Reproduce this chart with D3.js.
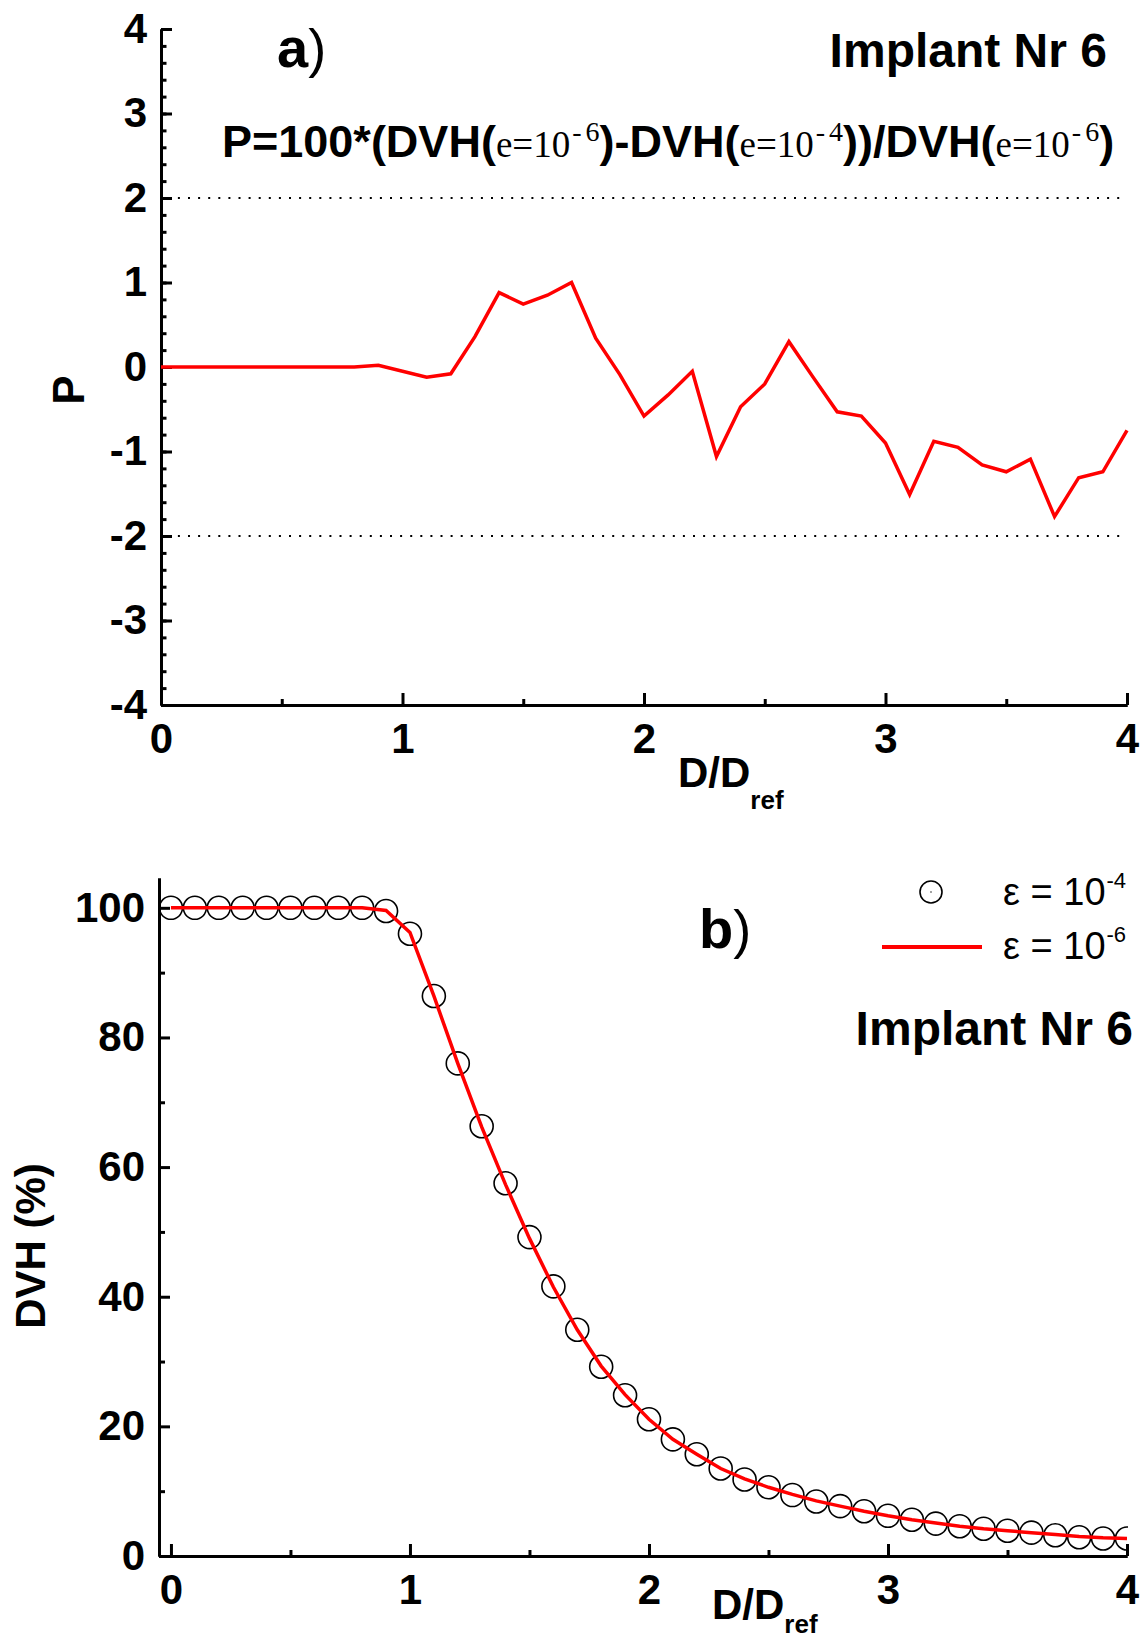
<!DOCTYPE html>
<html><head><meta charset="utf-8">
<script src="https://cdnjs.cloudflare.com/ajax/libs/d3/7.8.5/d3.min.js"></script>
<style>body{margin:0;background:#fff} svg{display:block}</style>
</head><body>
<svg id="c" width="1147" height="1641"></svg>
<script>
// ---------- data ----------
const dose = [0.0,0.1,0.2,0.3,0.4,0.5,0.6,0.7,0.8,0.9,1.0,1.1,1.2,1.3,1.4,1.5,1.6,1.7,1.8,1.9,2.0,
              2.1,2.2,2.3,2.4,2.5,2.6,2.7,2.8,2.9,3.0,3.1,3.2,3.3,3.4,3.5,3.6,3.7,3.8,3.9,4.0];
const pDiff = [0,0,0,0,0,0,0,0,0,0.02,-0.05,-0.12,-0.08,0.36,0.88,0.745,0.85,1.0,0.34,-0.09,-0.58,
               -0.33,-0.05,-1.06,-0.47,-0.20,0.30,-0.12,-0.53,-0.58,-0.90,-1.51,-0.88,-0.95,-1.16,-1.24,-1.09,-1.77,-1.31,-1.24,-0.75];
const dvhE4 = [100,100,100,100,100,100,100,100,100,99.5,96.0,86.4,76.0,66.3,57.5,49.2,41.6,34.9,29.2,24.8,21.1,
               18.0,15.7,13.5,11.8,10.6,9.4,8.4,7.7,6.9,6.2,5.6,5.0,4.6,4.2,3.9,3.6,3.2,2.9,2.7,2.7];
const dvhE6 = [100,100,100,100,100,100,100,100,100,99.6,96.2,86.4,76.0,66.2,57.3,49.0,41.5,34.9,29.3,24.9,21.1,
               18.0,15.7,13.5,11.9,10.6,9.5,8.5,7.7,6.9,6.2,5.6,5.1,4.6,4.2,3.9,3.6,3.3,3.0,2.8,2.7];
const doseTicks = [0,1,2,3,4];
const doseMinorTicks = [0.5,1.5,2.5,3.5];
const pTicks = [-4,-3,-2,-1,0,1,2,3,4];
const pLimits = [2,-2];
const dvhTicks = [0,20,40,60,80,100];
const dvhMinorTicks = [10,30,50,70,90];

// ---------- setup ----------
const SANS = "'Liberation Sans', Arial, Helvetica, sans-serif";
const SERIF = "'Liberation Serif', 'Times New Roman', serif";
const svg = d3.select('#c');

function styleAxis(g, labels) {
  g.attr('font-family', SANS).attr('font-size', 42).attr('font-weight', 'bold');
  g.select('.domain').attr('stroke', '#000').attr('stroke-width', 3);
  g.selectAll('.tick line').attr('stroke', '#000').attr('stroke-width', 3);
  g.selectAll('.tick text').attr('fill', '#000');
  if (!labels) g.selectAll('.tick text').remove();
}

// ================= Panel a =================
const xA = d3.scaleLinear().domain([0, 4]).range([161, 1127]);
const yA = d3.scaleLinear().domain([-4, 4]).range([705, 29]);

svg.append('g').selectAll('line').data(pLimits).join('line')
  .attr('x1', xA(0.07)).attr('x2', xA(4))
  .attr('y1', d => yA(d)).attr('y2', d => yA(d))
  .attr('stroke', '#000').attr('stroke-width', 2).attr('stroke-dasharray', '2,8.1');

svg.append('g').attr('transform', `translate(${xA(0)},0)`)
  .call(d3.axisLeft(yA).ticks(40).tickSizeInner(-5.5).tickSizeOuter(0).tickFormat(''))
  .call(g => styleAxis(g, false));
svg.append('g').attr('transform', `translate(${xA(0)},0)`)
  .call(d3.axisLeft(yA).tickValues(pTicks).tickSizeInner(-11).tickSizeOuter(0).tickPadding(14).tickFormat(d => String(d)))
  .call(g => styleAxis(g, true));
svg.append('g').attr('transform', `translate(0,${yA(-4)})`)
  .call(d3.axisBottom(xA).tickValues(doseMinorTicks).tickSizeInner(-6).tickSizeOuter(0).tickFormat(''))
  .call(g => styleAxis(g, false));
svg.append('g').attr('transform', `translate(0,${yA(-4)})`)
  .call(d3.axisBottom(xA).tickValues(doseTicks).tickSizeInner(-12).tickSizeOuter(0).tickPadding(18).tickFormat(d => String(d)))
  .call(g => styleAxis(g, true));

svg.append('path')
  .datum(dose.map((d, i) => [d, pDiff[i]]))
  .attr('fill', 'none').attr('stroke', '#ff0000').attr('stroke-width', 3.5)
  .attr('stroke-linejoin', 'miter')
  .attr('d', d3.line().x(d => xA(d[0])).y(d => yA(d[1])));

const ta = svg.append('text').attr('x', 277).attr('y', 67).attr('font-family', SANS).attr('fill', '#000');
ta.append('tspan').attr('font-size', 56).attr('font-weight', 'bold').text('a');
ta.append('tspan').attr('font-size', 54).attr('font-weight', 'normal').text(')');

svg.append('text').attr('x', 1107).attr('y', 67).attr('text-anchor', 'end')
  .attr('font-family', SANS).attr('font-size', 48).attr('font-weight', 'bold').text('Implant Nr 6');

const segs = [
  ['P=100*(DVH(', 'b'], ['e=10', 's'], ['-', 'u'], ['6', 'u2'],
  [')-DVH(', 'b'], ['e=10', 's'], ['-', 'u'], ['4', 'u2'],
  ['))/DVH(', 'b'], ['e=10', 's'], ['-', 'u'], ['6', 'u2'], [')', 'b']
];
const tf = svg.append('text').attr('x', 222).attr('y', 157).attr('fill', '#000');
segs.forEach(([t, k]) => {
  const sp = tf.append('tspan').text(t);
  if (k === 'b') sp.attr('font-family', SANS).attr('font-weight', 'bold').attr('font-size', 45).attr('y', 157);
  else if (k === 's') sp.attr('font-family', SERIF).attr('font-weight', 'normal').attr('font-size', 37).attr('y', 157);
  else sp.attr('font-family', SERIF).attr('font-weight', 'normal').attr('font-size', 28).attr('y', 141).attr('dx', k === 'u2' ? 4 : 2);
});

svg.append('text').attr('transform', 'translate(84,390) rotate(-90)').attr('text-anchor', 'middle')
  .attr('font-family', SANS).attr('font-size', 44).attr('font-weight', 'bold').text('P');
const xla = svg.append('text').attr('x', 678).attr('y', 787).attr('font-family', SANS).attr('font-weight', 'bold');
xla.append('tspan').attr('font-size', 42).text('D/D');
xla.append('tspan').attr('font-size', 26).attr('y', 809).text('ref');

// ================= Panel b =================
const xB = d3.scaleLinear().domain([-0.05, 4]).range([159, 1127]);
const yB = d3.scaleLinear().domain([0, 104.6]).range([1556, 878]);

svg.append('g').attr('transform', `translate(${xB(-0.05)},0)`)
  .call(d3.axisLeft(yB).tickValues(dvhMinorTicks).tickSizeInner(-6).tickSizeOuter(0).tickFormat(''))
  .call(g => styleAxis(g, false));
svg.append('g').attr('transform', `translate(${xB(-0.05)},0)`)
  .call(d3.axisLeft(yB).tickValues(dvhTicks).tickSizeInner(-11).tickSizeOuter(0).tickPadding(14).tickFormat(d => String(d)))
  .call(g => styleAxis(g, true));
svg.append('g').attr('transform', `translate(0,${yB(0)})`)
  .call(d3.axisBottom(xB).tickValues(doseMinorTicks).tickSizeInner(-6).tickSizeOuter(0).tickFormat(''))
  .call(g => styleAxis(g, false));
svg.append('g').attr('transform', `translate(0,${yB(0)})`)
  .call(d3.axisBottom(xB).tickValues(doseTicks).tickSizeInner(-12).tickSizeOuter(0).tickPadding(18).tickFormat(d => String(d)))
  .call(g => styleAxis(g, true));

svg.append('clipPath').attr('id', 'clipB').append('rect')
  .attr('x', xB(-0.05)).attr('y', 850).attr('width', xB(4) - xB(-0.05) + 1).attr('height', 720);

const gB = svg.append('g').attr('clip-path', 'url(#clipB)');
gB.selectAll('circle').data(dose.map((d, i) => [d, dvhE4[i]])).join('circle')
  .attr('cx', d => xB(d[0])).attr('cy', d => yB(d[1])).attr('r', 11.5)
  .attr('fill', 'none').attr('stroke', '#000').attr('stroke-width', 1.6);
gB.append('path')
  .datum(dose.map((d, i) => [d, dvhE6[i]]))
  .attr('fill', 'none').attr('stroke', '#ff0000').attr('stroke-width', 3.5)
  .attr('d', d3.line().x(d => xB(d[0])).y(d => yB(d[1])));

svg.append('circle').attr('cx', 931).attr('cy', 892).attr('r', 11).attr('fill', 'none').attr('stroke', '#000').attr('stroke-width', 1.6);
svg.append('circle').attr('cx', 931).attr('cy', 892).attr('r', 0.7).attr('fill', '#000');
svg.append('line').attr('x1', 882).attr('x2', 982).attr('y1', 947).attr('y2', 947).attr('stroke', '#ff0000').attr('stroke-width', 4);
[['-4', 905], ['-6', 959]].forEach(([e, y]) => {
  const t = svg.append('text').attr('x', 1003).attr('y', y).attr('font-family', SANS).attr('font-size', 38).attr('fill', '#000');
  t.append('tspan').text('ε = 10');
  t.append('tspan').attr('font-size', 22).attr('y', y - 17).attr('dx', 1).text(e);
});

const tb = svg.append('text').attr('x', 699).attr('y', 948).attr('font-family', SANS).attr('fill', '#000');
tb.append('tspan').attr('font-size', 56).attr('font-weight', 'bold').text('b');
tb.append('tspan').attr('font-size', 54).attr('font-weight', 'normal').text(')');

svg.append('text').attr('x', 1133).attr('y', 1045).attr('text-anchor', 'end')
  .attr('font-family', SANS).attr('font-size', 48).attr('font-weight', 'bold').text('Implant Nr 6');

svg.append('text').attr('transform', 'translate(45,1246) rotate(-90)').attr('text-anchor', 'middle')
  .attr('font-family', SANS).attr('font-size', 42).attr('font-weight', 'bold').text('DVH (%)');
const xlb = svg.append('text').attr('x', 712).attr('y', 1619).attr('font-family', SANS).attr('font-weight', 'bold');
xlb.append('tspan').attr('font-size', 42).text('D/D');
xlb.append('tspan').attr('font-size', 26).attr('y', 1633).text('ref');
</script>
</body></html>
